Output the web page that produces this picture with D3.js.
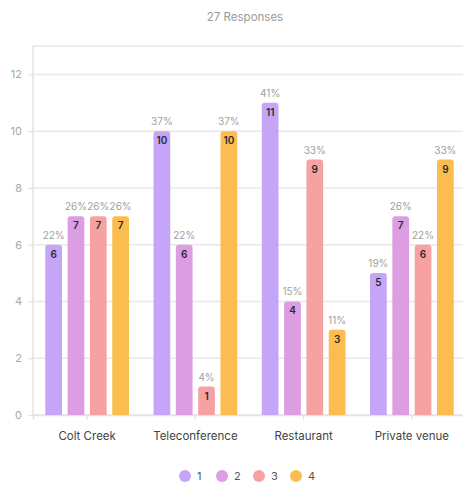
<!DOCTYPE html>
<html>
<head>
<meta charset="utf-8">
<script src="https://cdn.jsdelivr.net/npm/d3@7"></script>
<style>
  body { margin: 0; background: #fff; }
  svg { display: block; font-family: "Inter", "Noto Sans", sans-serif; }
</style>
</head>
<body>
<div id="chart"></div>
<script>
// categories and series
var categories = ["Colt Creek", "Teleconference", "Restaurant", "Private venue"];
var series = ["1", "2", "3", "4"];
var colors = ["#c5a5f7", "#dd9de2", "#f7a2a2", "#fbbd4f"];

// counts per category, one array per series
var counts1 = [6, 10, 11, 5];
var counts2 = [7, 6, 4, 7];
var counts3 = [7, 1, 9, 6];
var counts4 = [7, 10, 3, 9];

// percent labels as shown
var pct1 = ["22%", "37%", "41%", "19%"];
var pct2 = ["26%", "22%", "15%", "26%"];
var pct3 = ["26%", "4%", "33%", "22%"];
var pct4 = ["26%", "37%", "11%", "33%"];

var yTicks = [0, 2, 4, 6, 8, 10, 12];
var subtitle = "27 Responses";

var allCounts = [counts1, counts2, counts3, counts4];
var allPct = [pct1, pct2, pct3, pct4];

// flatten into rows for drawing
var rows = [];
categories.forEach(function (cat, ci) {
    series.forEach(function (s, si) {
        rows.push({ cat: cat, s: s, si: si, value: allCounts[si][ci], pct: allPct[si][ci] });
    });
});

var width = 463, height = 485;
var margin = { top: 46, left: 33, bottom: 70 };
var plotRight = 466;

var svg = d3.select("#chart")
    .append("svg")
    .attr("width", width)
    .attr("height", height);

// subtitle
svg.append("text")
    .attr("x", 245)
    .attr("y", 21)
    .attr("text-anchor", "middle")
    .attr("font-size", "11.5px")
    .attr("fill", "#9a9a9a")
    .text(subtitle);

var x0 = d3.scaleBand()
    .domain(categories)
    .range([margin.left, plotRight]);

var x1 = d3.scaleBand()
    .domain(series)
    .range([0, x0.bandwidth()])
    .paddingInner(0.25)
    .paddingOuter(0.55);

var y = d3.scaleLinear()
    .domain([0, 13])
    .range([height - margin.bottom, margin.top]);

// grid lines
svg.append("g")
    .selectAll("line")
    .data(yTicks.concat([13]))
    .enter()
    .append("line")
    .attr("x1", margin.left)
    .attr("x2", plotRight)
    .attr("y1", d => y(d))
    .attr("y2", d => y(d))
    .attr("stroke", "#e8e8e8")
    .attr("stroke-width", 1.5);

// y axis
var yAxis = svg.append("g")
    .attr("transform", "translate(" + margin.left + ",0)")
    .call(d3.axisLeft(y).tickValues(yTicks).tickSize(5).tickPadding(6));
yAxis.select(".domain")
    .attr("d", "M0," + y(13) + "V" + y(0))
    .attr("stroke", "#e3e3e3")
    .attr("stroke-width", 1.5);
yAxis.selectAll(".tick line").attr("stroke", "#e3e3e3").attr("stroke-width", 1.2);
yAxis.selectAll(".tick text")
    .attr("fill", "#a8a8a8")
    .attr("font-size", "11px")
    .attr("font-family", "Inter, sans-serif");

// x axis
var xAxis = svg.append("g")
    .attr("transform", "translate(0," + y(0) + ")")
    .call(d3.axisBottom(x0).tickSize(5).tickPadding(12));
xAxis.select(".domain").attr("stroke", "#e3e3e3").attr("stroke-width", 1.5);
xAxis.selectAll(".tick line").attr("stroke", "#e3e3e3").attr("stroke-width", 1.2);
xAxis.selectAll(".tick text")
    .attr("fill", "#444")
    .attr("font-size", "11.5px")
    .attr("font-family", "Inter, sans-serif");

// bars with rounded tops
function barPath(d) {
    var bx = x0(d.cat) + x1(d.s);
    var bw = x1.bandwidth();
    var top = y(d.value), bot = y(0);
    var r = Math.min(3, (bot - top) / 2);
    return "M" + bx + "," + bot +
        "V" + (top + r) +
        "Q" + bx + "," + top + " " + (bx + r) + "," + top +
        "H" + (bx + bw - r) +
        "Q" + (bx + bw) + "," + top + " " + (bx + bw) + "," + (top + r) +
        "V" + bot + "Z";
}

svg.append("g")
    .selectAll("path")
    .data(rows)
    .enter()
    .append("path")
    .attr("d", barPath)
    .attr("fill", d => colors[d.si]);

// count labels inside bars
svg.append("g")
    .selectAll("text")
    .data(rows)
    .enter()
    .append("text")
    .attr("x", d => x0(d.cat) + x1(d.s) + x1.bandwidth() / 2)
    .attr("y", d => y(d.value) + 13)
    .attr("text-anchor", "middle")
    .attr("font-size", "10px")
    .attr("font-weight", "600")
    .attr("fill", "#2b2b2b")
    .text(d => d.value);

// percent labels above bars
svg.append("g")
    .selectAll("text")
    .data(rows)
    .enter()
    .append("text")
    .attr("x", d => x0(d.cat) + x1(d.s) + x1.bandwidth() / 2)
    .attr("y", d => y(d.value) - 6)
    .attr("text-anchor", "middle")
    .attr("font-size", "10px")
    .attr("fill", "#a0a0a0")
    .text(d => d.pct);

// legend
var legend = svg.append("g")
    .selectAll("g")
    .data(series)
    .enter()
    .append("g")
    .attr("transform", (d, i) => "translate(" + (185 + i * 37) + ",476)");
legend.append("circle")
    .attr("r", 6)
    .attr("fill", (d, i) => colors[i]);
legend.append("text")
    .attr("x", 12)
    .attr("y", 4)
    .attr("font-size", "11px")
    .attr("fill", "#555")
    .text(d => d);
</script>
</body>
</html>
